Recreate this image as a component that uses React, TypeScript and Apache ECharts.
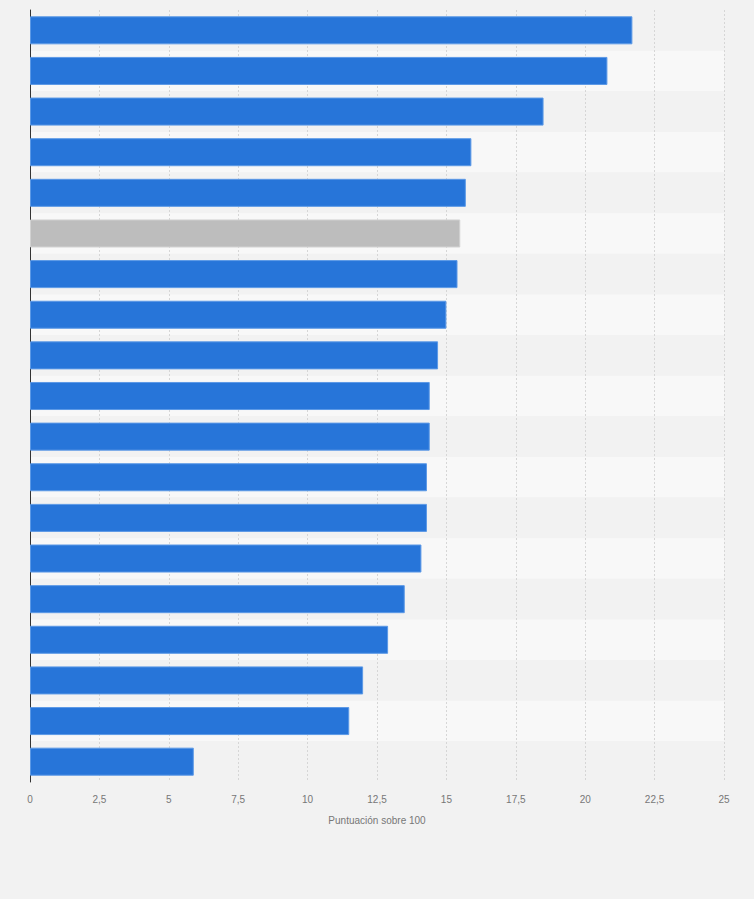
import React, { useEffect, useRef } from "react";
import * as echarts from "echarts";

const categories = [
  "1", "2", "3", "4", "5", "6", "7", "8", "9", "10",
  "11", "12", "13", "14", "15", "16", "17", "18", "19",
];
const values = [
  21.7, 20.8, 18.5, 15.9, 15.7, 15.5, 15.4, 15.0, 14.7, 14.4,
  14.4, 14.3, 14.3, 14.1, 13.5, 12.9, 12.0, 11.5, 5.9,
];
const highlightIndex = 5;
const axisTitle = "Puntuación sobre 100";

export default function App() {
  const ref = useRef<HTMLDivElement>(null);
  useEffect(() => {
    document.body.style.margin = "0";
    document.body.style.background = "#f2f2f2";
    const chart = echarts.init(ref.current!, null, { renderer: "svg" });
    chart.setOption({
      animation: false,
      backgroundColor: "#f2f2f2",
      grid: { left: 30, right: 30, top: 10, bottom: 117, containLabel: false },
      xAxis: {
        type: "value",
        min: 0,
        max: 25,
        interval: 2.5,
        name: axisTitle,
        nameLocation: "middle",
        nameGap: 33,
        nameTextStyle: { color: "#777777", fontSize: 10, fontFamily: "Liberation Sans, Arial, sans-serif" },
        axisLine: { show: false },
        axisTick: { show: false },
        axisLabel: {
          color: "#777777",
          fontSize: 10,
          margin: 12,
          fontFamily: "Liberation Sans, Arial, sans-serif",
          formatter: (v: number) => String(v).replace(".", ","),
        },
        splitLine: { show: true, lineStyle: { color: "#d6d6d6", type: [2, 2], width: 1 } },
      },
      yAxis: {
        type: "category",
        data: categories,
        inverse: true,
        axisLine: { show: true, lineStyle: { color: "#333333", width: 1 } },
        axisTick: { show: false },
        axisLabel: { show: false },
        splitLine: { show: false },
        splitArea: { show: true, areaStyle: { color: ["#f2f2f2", "#f8f8f8"] } },
      },
      series: [
        {
          type: "bar",
          barCategoryGap: "31%",
          data: values.map((v, i) => ({
            value: v,
            itemStyle:
              i === highlightIndex
                ? { color: "#bdbdbd", borderColor: "#d2d2d2", borderWidth: 1 }
                : { color: "#2775d9", borderColor: "#5c99e6", borderWidth: 1 },
          })),
        },
      ],
    });
    return () => chart.dispose();
  }, []);
  return <div ref={ref} style={{ width: 754, height: 899 }} />;
}
